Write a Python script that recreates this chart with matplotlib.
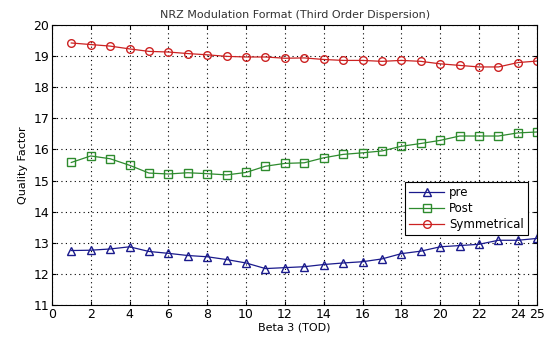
import matplotlib
matplotlib.use("Agg")
import matplotlib.pyplot as plt
import numpy as np

beta3 = np.arange(1, 26)

pre = [12.75, 12.76, 12.80, 12.87, 12.72, 12.66, 12.59, 12.55, 12.46, 12.35,
       12.17, 12.20, 12.23, 12.30, 12.35, 12.39, 12.48, 12.65, 12.73, 12.87,
       12.91, 12.95, 13.08, 13.08, 13.14]
post = [15.58, 15.79, 15.70, 15.49, 15.24, 15.21, 15.25, 15.22, 15.18, 15.26,
        15.46, 15.55, 15.57, 15.73, 15.84, 15.89, 15.95, 16.10, 16.19, 16.29,
        16.43, 16.43, 16.43, 16.53, 16.56]
symmetrical = [19.42, 19.37, 19.32, 19.23, 19.15, 19.13, 19.08, 19.04, 18.99, 18.97,
               18.97, 18.93, 18.94, 18.89, 18.86, 18.86, 18.83, 18.86, 18.83, 18.75,
               18.70, 18.65, 18.65, 18.79, 18.84]

xticks = [0, 2, 4, 6, 8, 10, 12, 14, 16, 18, 20, 22, 24, 25]

fig = plt.figure(figsize=(5.46, 3.37), dpi=100)
ax = fig.add_axes([0.095, 0.095, 0.889, 0.831])

ax.plot(beta3, pre, color='#1a1a8c', marker='^', mfc='none', ms=5.5, lw=0.9, label='pre')
ax.plot(beta3, post, color='#2e8b2e', marker='s', mfc='none', ms=5.5, lw=0.9, label='Post')
ax.plot(beta3, symmetrical, color='#cc2222', marker='o', mfc='none', ms=5.5, lw=0.9, label='Symmetrical')

ax.set_xlim(0, 25)
ax.set_ylim(11, 20)
ax.set_xticks(xticks)
ax.set_yticks(np.arange(11, 21))
ax.tick_params(labelsize=9, direction='in', length=3, top=True, right=True, pad=2)
ax.grid(True, color='black', linestyle=(0, (1, 3)), linewidth=0.8)

ax.set_title('NRZ Modulation Format (Third Order Dispersion)', fontsize=8, pad=5, color='#333333')
ax.set_xlabel('Beta 3 (TOD)', fontsize=8, labelpad=1)
ax.set_ylabel('Quality Factor', fontsize=8, labelpad=4)

leg = ax.legend(loc='upper left', bbox_to_anchor=(0.715, 0.46), fontsize=8.5,
                fancybox=False, framealpha=1, edgecolor='black',
                borderpad=0.35, labelspacing=0.25, handlelength=3.0, handletextpad=0.4)
leg.get_frame().set_linewidth(0.8)

fig.savefig('out.png', dpi=100)
